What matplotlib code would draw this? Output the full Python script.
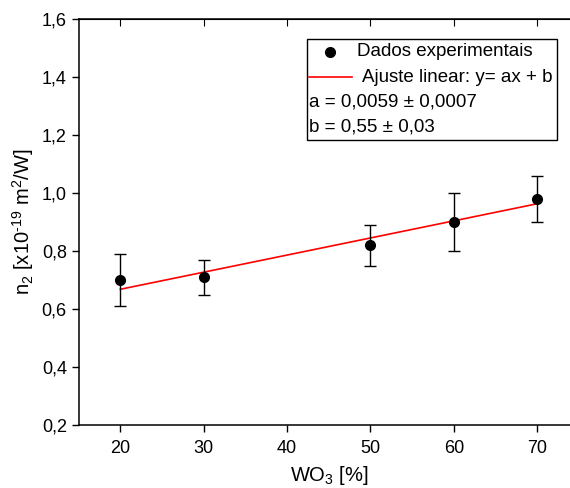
import numpy as np
import matplotlib.pyplot as plt
from matplotlib.patches import Rectangle
from matplotlib.lines import Line2D
from matplotlib.ticker import FuncFormatter

plt.rcParams['font.family'] = ['Liberation Sans', 'DejaVu Sans']
plt.rcParams['mathtext.fontset'] = 'custom'
plt.rcParams['mathtext.rm'] = 'Liberation Sans'
plt.rcParams['mathtext.it'] = 'Liberation Sans:italic'
plt.rcParams['mathtext.default'] = 'regular'

# data
wo3 = [20, 30, 50, 60, 70]
n2 = [0.70, 0.71, 0.82, 0.90, 0.98]
n2_err = [0.09, 0.06, 0.07, 0.10, 0.08]
fit_a = 0.0059
fit_b = 0.55
fit_x = np.array([20, 70])

W, H = 570, 488
fig = plt.figure(figsize=(W / 100, H / 100), dpi=100)
ax = fig.add_axes([78.6 / W, 63 / H, 500.4 / W, 406 / H])

ax.errorbar(wo3, n2, yerr=n2_err, fmt='o', color='black', ms=7,
            ecolor='black', elinewidth=1, capsize=4, capthick=1, zorder=3)
ax.plot(fit_x, fit_a * fit_x + fit_b, color='red', lw=1.2, zorder=2)

ax.set_xlim(15, 75)
ax.set_ylim(0.2, 1.6)
ax.set_xticks([20, 30, 40, 50, 60, 70])
ax.set_yticks(np.arange(0.2, 1.61, 0.2))
ax.yaxis.set_major_formatter(FuncFormatter(lambda v, p: f"{v:.1f}".replace('.', ',')))
ax.tick_params(axis='both', labelsize=13, length=5, width=1, direction='out')
ax.tick_params(axis='x', pad=6)
for s in ax.spines.values():
    s.set_linewidth(1.1)
ax.spines['right'].set_visible(False)
# top ticks point inward
ax2 = ax.secondary_xaxis('top')
ax2.set_xticks([20, 30, 40, 50, 60, 70])
ax2.tick_params(direction='in', length=5, labeltop=False)

ax.set_xlabel("WO$_3$ [%]", fontsize=14.5, labelpad=5)
ax.set_ylabel("n$_2$ [x10$^{\u201019}$ m$^2$/W]", fontsize=14.5, labelpad=4)

# legend box drawn by hand (pixel positions from the top-left of the figure)
def fx(px):
    return (px - 78.6) / 500.4

def fy(py):
    return (425 - py) / 406

ax.add_patch(Rectangle((fx(307), fy(140)), fx(557) - fx(307), fy(39) - fy(140),
                       transform=ax.transAxes, fill=True, facecolor='white',
                       edgecolor='black', lw=1, zorder=5))
ax.add_line(Line2D([fx(330)], [fy(52)], marker='o', ms=7, color='black',
                   transform=ax.transAxes, zorder=6))
ax.add_line(Line2D([fx(309), fx(352)], [fy(77), fy(77)], color='red', lw=1.2,
                   transform=ax.transAxes, zorder=6))
txt = dict(transform=ax.transAxes, fontsize=13.5, va='center', ha='left', zorder=6)
ax.text(fx(357), fy(52), "Dados experimentais", **txt)
ax.text(fx(362), fy(77), "Ajuste linear: y= ax + b", **txt)
ax.text(fx(309), fy(102), "a = 0,0059 \u00b1 0,0007", **txt)
ax.text(fx(309), fy(127), "b = 0,55 \u00b1 0,03", **txt)

fig.savefig("out.png", dpi=100)
